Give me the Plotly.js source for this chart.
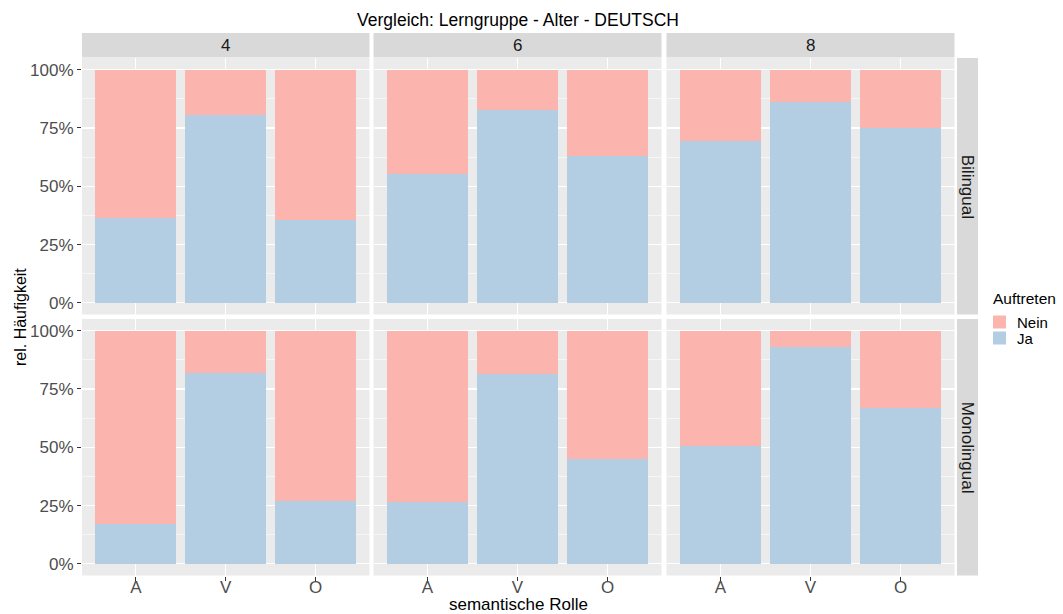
<!DOCTYPE html>
<html>
<head>
<meta charset="utf-8">
<script src="https://cdn.plot.ly/plotly-3.0.1.min.js"></script>
<style>html,body{margin:0;padding:0;background:#fff;}#chart{width:1063px;height:614px;}</style>
</head>
<body>
<div id="chart"></div>
<script>
// ---- data ----
const categories = ['A', 'V', 'O'];
const ages = ['4', '6', '8'];
const groups = ['Bilingual', 'Monolingual'];
const seriesNames = ['Nein', 'Ja'];
const legendTitle = 'Auftreten';
const yTicks = [0, 0.25, 0.5, 0.75, 1];

const jaBilingual4 = [0.364, 0.805, 0.355];
const jaBilingual6 = [0.552, 0.827, 0.630];
const jaBilingual8 = [0.694, 0.861, 0.749];
const jaMonolingual4 = [0.171, 0.818, 0.269];
const jaMonolingual6 = [0.265, 0.814, 0.450];
const jaMonolingual8 = [0.505, 0.930, 0.668];

const neinBilingual4 = [0.636, 0.195, 0.645];
const neinBilingual6 = [0.448, 0.173, 0.370];
const neinBilingual8 = [0.306, 0.139, 0.251];
const neinMonolingual4 = [0.829, 0.182, 0.731];
const neinMonolingual6 = [0.735, 0.186, 0.550];
const neinMonolingual8 = [0.495, 0.070, 0.332];

// ---- styling ----
const W = 1063, H = 614;
const COL_JA = '#B3CDE3', COL_NEIN = '#FBB4AE';
const FONT = 'Liberation Sans, Arial, sans-serif';
const panelX = [[82, 369.5], [373.5, 661.5], [666.5, 954.5]];
const panelY = [[58, 314.5], [319, 575.5]];
const stripTop = [33, 57.5];
const stripRight = [957, 978];

const px = v => v / W;
const py = v => 1 - v / H;

const jaRows = [[jaBilingual4, jaBilingual6, jaBilingual8], [jaMonolingual4, jaMonolingual6, jaMonolingual8]];
const neinRows = [[neinBilingual4, neinBilingual6, neinBilingual8], [neinMonolingual4, neinMonolingual6, neinMonolingual8]];

const data = [];
const layout = {
  width: W, height: H,
  margin: {l: 0, r: 0, t: 0, b: 0, pad: 0},
  paper_bgcolor: '#ffffff',
  plot_bgcolor: '#EBEBEB',
  barmode: 'stack',
  bargap: 0.1,
  font: {family: FONT, color: '#1a1a1a'},
  title: {
    text: 'Vergleich: Lerngruppe - Alter - DEUTSCH',
    font: {family: FONT, size: 17.5, color: '#000000'},
    x: px(518), xref: 'paper', xanchor: 'center',
    y: py(20), yref: 'paper', yanchor: 'middle'
  },
  showlegend: false,
  shapes: [],
  annotations: []
};

let idx = 0;
for (let r = 0; r < 2; r++) {
  for (let c = 0; c < 3; c++) {
    idx++;
    const xa = idx === 1 ? 'xaxis' : 'xaxis' + idx;
    const ya = idx === 1 ? 'yaxis' : 'yaxis' + idx;
    const xr = idx === 1 ? 'x' : 'x' + idx;
    const yr = idx === 1 ? 'y' : 'y' + idx;
    layout[xa] = {
      domain: [px(panelX[c][0]), px(panelX[c][1])],
      anchor: yr,
      type: 'category',
      categoryorder: 'array', categoryarray: categories,
      range: [-0.6, 2.6],
      showgrid: true, gridcolor: '#ffffff', gridwidth: 1.1,
      zeroline: false, showline: false,
      ticks: r === 1 ? 'outside' : '', ticklen: 4, tickcolor: '#333333', tickwidth: 1,
      showticklabels: r === 1,
      ticklabelstandoff: -8,
      tickfont: {family: FONT, size: 17, color: '#4d4d4d'},
      fixedrange: true
    };
    layout[ya] = {
      domain: [py(panelY[r][1]), py(panelY[r][0])],
      anchor: xr,
      range: [-0.05, 1.05],
      tickvals: yTicks,
      tickformat: '.0%',
      showgrid: true, gridcolor: '#ffffff', gridwidth: 1.1,
      minor: {dtick: 0.125, tick0: 0.125, showgrid: true, gridcolor: '#ffffff', gridwidth: 0.55, ticks: ''},
      zeroline: false, showline: false,
      ticks: c === 0 ? 'outside' : '', ticklen: 4, tickcolor: '#333333', tickwidth: 1,
      showticklabels: c === 0,
      tickfont: {family: FONT, size: 17, color: '#4d4d4d'},
      fixedrange: true
    };
    data.push({
      type: 'bar', name: seriesNames[1], x: categories, y: jaRows[r][c],
      xaxis: xr, yaxis: yr, width: 0.9,
      marker: {color: COL_JA, line: {width: 0}},
      hoverinfo: 'skip'
    });
    data.push({
      type: 'bar', name: seriesNames[0], x: categories, y: neinRows[r][c],
      xaxis: xr, yaxis: yr, width: 0.9,
      marker: {color: COL_NEIN, line: {width: 0}},
      hoverinfo: 'skip'
    });
  }
}

// top strips
for (let c = 0; c < 3; c++) {
  layout.shapes.push({type: 'rect', xref: 'paper', yref: 'paper', layer: 'below',
    x0: px(panelX[c][0]), x1: px(panelX[c][1]), y0: py(stripTop[1]), y1: py(stripTop[0]),
    fillcolor: '#D9D9D9', line: {width: 0}});
  layout.annotations.push({xref: 'paper', yref: 'paper', showarrow: false,
    x: px((panelX[c][0] + panelX[c][1]) / 2), y: py((stripTop[0] + stripTop[1]) / 2),
    xanchor: 'center', yanchor: 'middle', text: ages[c],
    font: {family: FONT, size: 17, color: '#1a1a1a'}});
}
// right strips
for (let r = 0; r < 2; r++) {
  layout.shapes.push({type: 'rect', xref: 'paper', yref: 'paper', layer: 'below',
    x0: px(stripRight[0]), x1: px(stripRight[1]), y0: py(panelY[r][1]), y1: py(panelY[r][0]),
    fillcolor: '#D9D9D9', line: {width: 0}});
  layout.annotations.push({xref: 'paper', yref: 'paper', showarrow: false,
    x: px((stripRight[0] + stripRight[1]) / 2), y: py((panelY[r][0] + panelY[r][1]) / 2),
    xanchor: 'center', yanchor: 'middle', text: groups[r], textangle: 90,
    font: {family: FONT, size: 17, color: '#1a1a1a'}});
}
// axis titles
layout.annotations.push({xref: 'paper', yref: 'paper', showarrow: false,
  x: px(518), y: py(604), xanchor: 'center', yanchor: 'middle',
  text: 'semantische Rolle', font: {family: FONT, size: 17, color: '#000'}});
layout.annotations.push({xref: 'paper', yref: 'paper', showarrow: false,
  x: px(20), y: py(317), xanchor: 'center', yanchor: 'middle', textangle: -90,
  text: 'rel. Häufigkeit', font: {family: FONT, size: 16, color: '#000'}});

// legend (drawn as key boxes + labels)
layout.annotations.push({xref: 'paper', yref: 'paper', showarrow: false,
  x: px(991), y: py(298), xanchor: 'left', yanchor: 'middle',
  text: legendTitle, font: {family: FONT, size: 15.5, color: '#000'}});
const legendCols = [COL_NEIN, COL_JA];
const legendYs = [322, 338];
for (let i = 0; i < 2; i++) {
  layout.shapes.push({type: 'rect', xref: 'paper', yref: 'paper',
    x0: px(993), x1: px(1006), y0: py(legendYs[i] + 6.5), y1: py(legendYs[i] - 6.5),
    fillcolor: legendCols[i], line: {width: 0}});
  layout.annotations.push({xref: 'paper', yref: 'paper', showarrow: false,
    x: px(1015), y: py(legendYs[i]), xanchor: 'left', yanchor: 'middle',
    text: seriesNames[i], font: {family: FONT, size: 15, color: '#000'}});
}

Plotly.newPlot('chart', data, layout, {displayModeBar: false, staticPlot: true});
</script>
</body>
</html>
